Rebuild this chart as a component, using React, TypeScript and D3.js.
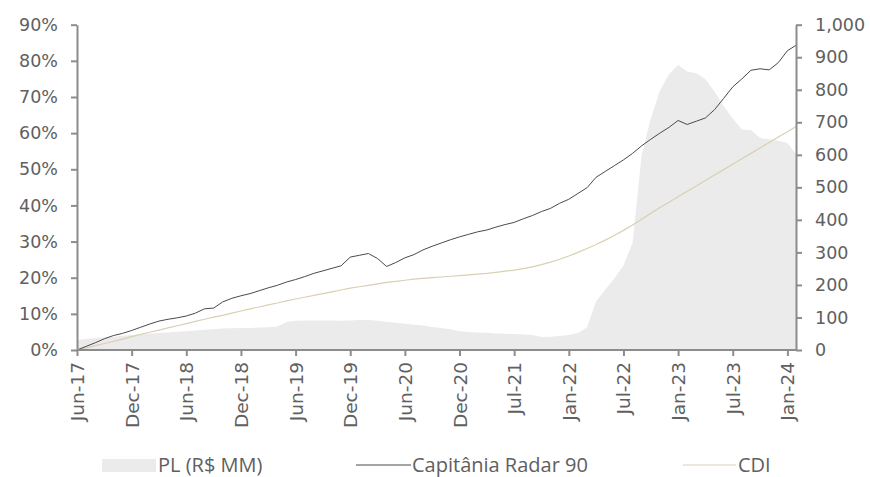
import React, { useEffect, useRef } from 'react';
import * as d3 from 'd3';

// monthly observations, Jun-17 .. Jan-24
const tickLabels = ['Jun-17', 'Dec-17', 'Jun-18', 'Dec-18', 'Jun-19', 'Dec-19', 'Jun-20', 'Dec-20',
  'Jul-21', 'Jan-22', 'Jul-22', 'Jan-23', 'Jul-23', 'Jan-24'];

// PL (R$ MM), right axis
const plValues = [31, 34, 37, 39, 41, 44, 46, 48, 50, 52, 54, 56, 58, 60, 62, 64, 66, 67, 68, 68,
  69, 70, 72, 86, 90, 91, 91, 91, 91, 90, 91, 92, 92, 90, 87, 84, 81, 78, 75, 71,
  68, 64, 58, 55, 54, 53, 51, 50, 49, 48, 46, 40, 41, 43, 46, 52, 70, 150, 185, 220,
  260, 330, 600, 712, 797, 848, 876, 856, 851, 832, 795, 750, 712, 678, 676, 652, 648, 643, 636, 600];

// Capitânia Radar 90, cumulative %
const radarValues = [0, 1.0, 2.0, 3.1, 4.0, 4.6, 5.4, 6.3, 7.2, 8.0, 8.5, 8.9, 9.4, 10.2, 11.4, 11.6, 13.3, 14.3, 15.0, 15.6,
  16.4, 17.2, 17.9, 18.8, 19.5, 20.3, 21.2, 21.9, 22.6, 23.3, 25.7, 26.2, 26.7, 25.3, 23.1, 24.2, 25.5, 26.4, 27.7, 28.7,
  29.6, 30.5, 31.3, 32.0, 32.7, 33.2, 34.0, 34.7, 35.3, 36.3, 37.2, 38.3, 39.2, 40.6, 41.7, 43.3, 44.9, 47.8, 49.4, 51.0,
  52.6, 54.4, 56.5, 58.3, 60.0, 61.6, 63.5, 62.4, 63.3, 64.2, 66.5, 69.6, 72.8, 75.0, 77.4, 77.8, 77.5, 79.5, 82.8, 84.4];

// CDI, cumulative %
const cdiValues = [0, 0.6, 1.2, 1.8, 2.4, 3.0, 3.7, 4.3, 4.9, 5.5, 6.1, 6.7, 7.3, 7.9, 8.5, 9.1, 9.6, 10.2, 10.8, 11.4,
  11.9, 12.5, 13.0, 13.6, 14.1, 14.6, 15.1, 15.6, 16.1, 16.6, 17.1, 17.5, 17.9, 18.3, 18.7, 19.0, 19.3, 19.6, 19.8, 20.0,
  20.2, 20.4, 20.6, 20.8, 21.0, 21.2, 21.5, 21.8, 22.1, 22.5, 23.0, 23.6, 24.3, 25.1, 26.0, 27.0, 28.1, 29.2, 30.4, 31.7,
  33.1, 34.6, 36.2, 37.8, 39.4, 40.9, 42.4, 43.9, 45.4, 46.9, 48.4, 49.9, 51.4, 52.9, 54.4, 55.9, 57.4, 58.9, 60.4, 61.9];

const leftTicks = [0, 10, 20, 30, 40, 50, 60, 70, 80, 90];
const rightTicks = [0, 100, 200, 300, 400, 500, 600, 700, 800, 900, 1000];

const App = () => {
  const ref = useRef<SVGSVGElement>(null);

  useEffect(() => {
    const svg = d3.select(ref.current);
    svg.selectAll('*').remove();

    const left = 77, right = 796, top = 24.7, bottom = 350;
    const axisColor = '#8c8c8c';
    const textColor = '#606060';
    const font = 'DejaVu Sans, sans-serif';

    const x = d3.scaleLinear().domain([0, plValues.length - 1]).range([left, right + 0.5]);
    const yL = d3.scaleLinear().domain([0, 90]).range([bottom, top]);
    const yR = d3.scaleLinear().domain([0, 1000]).range([bottom, top]);

    const area = d3.area<number>()
      .x((d, i) => x(i))
      .y0(yR(0))
      .y1(d => yR(d));
    svg.append('path').datum(plValues).attr('fill', '#ebebeb').attr('d', area);

    const line = (ys: d3.ScaleLinear<number, number>) => d3.line<number>().x((d, i) => x(i)).y(d => ys(d));

    svg.append('path').datum(cdiValues)
      .attr('fill', 'none').attr('stroke', '#d9d0b3').attr('stroke-width', 1.2)
      .attr('d', line(yL));
    svg.append('path').datum(radarValues)
      .attr('fill', 'none').attr('stroke', '#4a4a4a').attr('stroke-width', 1)
      .attr('d', line(yL));

    const styleAxis = (g: any, size: string) => {
      g.select('.domain').attr('stroke', axisColor).attr('stroke-width', 2);
      g.selectAll('.tick line').attr('stroke', axisColor).attr('stroke-width', 2);
      g.selectAll('.tick text').attr('fill', textColor).style('font-family', font).style('font-size', size);
    };

    svg.append('g')
      .attr('transform', `translate(${left},0)`)
      .call(d3.axisLeft(yL).tickValues(leftTicks).tickFormat(d => `${d}%`).tickSize(6).tickPadding(13).tickSizeOuter(0))
      .call(styleAxis, '17.5px');

    svg.append('g')
      .attr('transform', `translate(${right},0)`)
      .call(d3.axisRight(yR).tickValues(rightTicks).tickFormat(d3.format(',')).tickSize(6).tickPadding(13).tickSizeOuter(0))
      .call(styleAxis, '17.5px');

    const xAxis = svg.append('g')
      .attr('transform', `translate(0,${bottom})`)
      .call(d3.axisBottom(x).tickValues(tickLabels.map((_, i) => i * 6)).tickFormat((d, i) => tickLabels[i]).tickSize(6).tickSizeOuter(0))
      .call(styleAxis, '18.5px');
    xAxis.select('.domain').attr('d', `M${left},0H${right}`);
    xAxis.selectAll('.tick text')
      .attr('transform', 'rotate(-90)')
      .attr('x', -12).attr('y', 0).attr('dy', '0.35em')
      .attr('text-anchor', 'end');

    // legend
    const legend = svg.append('g').style('font-family', 'Open Sans, sans-serif').style('font-size', '20px').attr('fill', textColor);
    const ly = 465;
    legend.append('rect').attr('x', 102).attr('y', ly - 6).attr('width', 54).attr('height', 13).attr('fill', '#ebebeb');
    legend.append('text').attr('x', 158).attr('y', ly).attr('dy', '0.35em').text('PL (R$ MM)');
    legend.append('line').attr('x1', 356).attr('x2', 411).attr('y1', ly).attr('y2', ly).attr('stroke', '#4a4a4a');
    legend.append('text').attr('x', 412).attr('y', ly).attr('dy', '0.35em').text('Capitânia Radar 90');
    legend.append('line').attr('x1', 683).attr('x2', 736).attr('y1', ly).attr('y2', ly).attr('stroke', '#d9d0b3').attr('stroke-width', 1.2);
    legend.append('text').attr('x', 738).attr('y', ly).attr('dy', '0.35em').text('CDI');
  }, []);

  return (
    <svg ref={ref} width={870} height={477} style={{ position: 'absolute', left: 0, top: 0, background: '#fff' }} />
  );
};

export default App;
